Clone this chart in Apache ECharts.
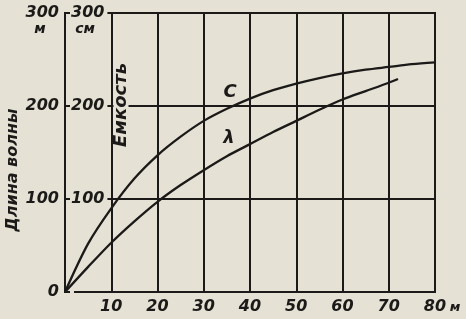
<!DOCTYPE html>
<html>
<head>
<meta charset="utf-8">
<script src="https://cdn.jsdelivr.net/npm/echarts@6/dist/echarts.min.js"></script>
<style>
html,body{margin:0;padding:0;background:#e5e1d5;}
#c{width:466px;height:319px;}
</style>
</head>
<body>
<div id="c"></div>
<script>
// Capacity curve C (см) vs wavelength-scale x (м)
const capX = [0, 5, 10, 15, 20, 25, 30, 35, 40, 45, 50, 55, 60, 65, 70, 75, 80];
const capC = [0, 52, 90, 122, 147, 167, 184, 197, 208, 217, 224, 230, 235, 239, 242, 245, 247];
// Wavelength curve λ (м)
const lamX = [0, 5, 10, 15, 20, 25, 30, 35, 40, 45, 50, 55, 60, 65, 70, 72];
const lamY = [0, 27, 53, 76, 97, 115, 131, 146, 159, 172, 184, 196, 207, 216, 225, 229];
const xTickLabels = ['', '10', '20', '30', '40', '50', '60', '70', '80'];
const yTickLabels = ['0', '100', '200', '300'];

const BG = '#e5e1d5';
const INK = '#1b1a18';
const FONT = 'DejaVu Sans';

const chart = echarts.init(document.getElementById('c'), null, {renderer: 'canvas'});
const capData = capX.map((x, i) => [x, capC[i]]);
const lamData = lamX.map((x, i) => [x, lamY[i]]);

chart.setOption({
  backgroundColor: BG,
  animation: false,
  grid: {left: 65, right: 31, top: 13, bottom: 27, show: true, borderColor: INK, borderWidth: 2, backgroundColor: 'transparent'},
  xAxis: {
    type: 'value', min: 0, max: 80, interval: 10,
    axisLine: {show: true, lineStyle: {color: INK, width: 2}},
    axisTick: {show: false},
    splitLine: {show: true, lineStyle: {color: INK, width: 2}},
    axisLabel: {
      margin: 7, color: INK, fontFamily: FONT, fontSize: 16, fontWeight: 'bold', fontStyle: 'italic',
      formatter: v => xTickLabels[Math.round(v / 10)] || ''
    }
  },
  yAxis: [{
    type: 'value', min: 0, max: 300, interval: 100, position: 'left',
    axisLine: {show: true, lineStyle: {color: INK, width: 2}},
    axisTick: {show: false},
    splitLine: {show: true, lineStyle: {color: INK, width: 2}},
    axisLabel: {
      margin: 6, color: INK, fontFamily: FONT, fontSize: 16, fontWeight: 'bold', fontStyle: 'italic',
      formatter: v => yTickLabels[Math.round(v / 100)]
    }
  }, {
    type: 'value', min: 0, max: 300, interval: 100, position: 'left',
    axisLine: {show: false}, axisTick: {show: false}, splitLine: {show: false},
    axisLabel: {
      inside: true, margin: 5, color: INK, fontFamily: FONT, fontSize: 16, fontWeight: 'bold', fontStyle: 'italic',
      backgroundColor: BG, padding: [1, 3, 1, 1],
      formatter: v => v === 0 ? '' : yTickLabels[Math.round(v / 100)]
    }
  }],
  series: [{
    type: 'line', data: capData, smooth: 0.3, symbol: 'none',
    lineStyle: {color: INK, width: 2.3}, z: 5
  }, {
    type: 'line', data: lamData, smooth: 0.3, symbol: 'none',
    lineStyle: {color: INK, width: 2.3}, z: 5
  }],
  graphic: [
    {type: 'text', x: 40, y: 29, style: {text: 'м', font: 'italic bold 14px DejaVu Sans', fill: INK, align: 'center', verticalAlign: 'middle'}},
    {type: 'text', x: 85, y: 29, style: {text: 'см', font: 'italic bold 14px DejaVu Sans', fill: INK, align: 'center', verticalAlign: 'middle'}},
    {type: 'text', x: 455, y: 308, style: {text: 'м', font: 'italic bold 13px DejaVu Sans', fill: INK, align: 'center', verticalAlign: 'middle'}},
    {type: 'text', x: 13, y: 170, rotation: Math.PI / 2, style: {text: 'Длина волны', font: 'italic bold 16px DejaVu Sans', fill: INK, align: 'center', verticalAlign: 'middle'}},
    {type: 'text', x: 121, y: 105, rotation: Math.PI / 2, z: 10, style: {text: 'Емкость', font: 'italic bold 18px DejaVu Sans', lineHeight: 15, fill: INK, align: 'center', verticalAlign: 'middle', backgroundColor: BG, padding: [0, 2]}},
    {type: 'text', x: 230, y: 92, z: 10, style: {text: 'C', font: 'italic bold 18px DejaVu Sans', fill: INK, align: 'center', verticalAlign: 'middle'}},
    {type: 'text', x: 229, y: 138, z: 10, style: {text: 'λ', font: 'italic bold 18px DejaVu Sans', fill: INK, align: 'center', verticalAlign: 'middle'}}
  ]
});
</script>
</body>
</html>
